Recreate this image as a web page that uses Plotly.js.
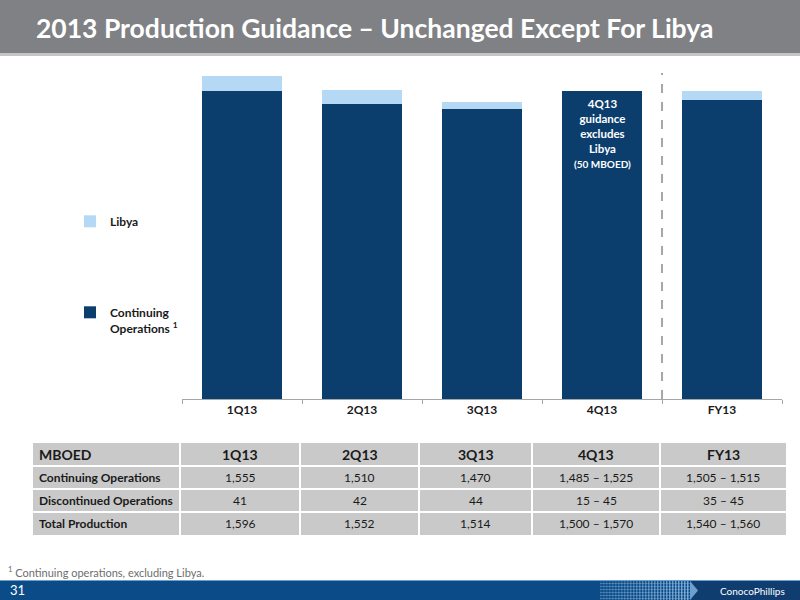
<!DOCTYPE html>
<html>
<head>
<meta charset="utf-8">
<script src="https://cdn.plot.ly/plotly-3.0.1.min.js"></script>
<style>
html,body{margin:0;padding:0;background:#fff;}
#chart{width:800px;height:600px;}
</style>
</head>
<body>
<div id="chart"></div>
<script>
// ---- Data ----
const categories = ['1Q13', '2Q13', '3Q13', '4Q13', 'FY13'];
const continuingOps = [1555, 1489, 1467, 1555, 1511];
const libya = [77, 74, 35, 0, 45];

const tableHeader = ['MBOED', '1Q13', '2Q13', '3Q13', '4Q13', 'FY13'];
const rowLabels = ['Continuing Operations', 'Discontinued Operations', 'Total Production'];
const rowContinuing = ['1,555', '1,510', '1,470', '1,485 \u2013 1,525', '1,505 \u2013 1,515'];
const rowDiscontinued = ['41', '42', '44', '15 \u2013 45', '35 \u2013 45'];
const rowTotal = ['1,596', '1,552', '1,514', '1,500 \u2013 1,570', '1,540 \u2013 1,560'];

const noteLines = ['4Q13', 'guidance', 'excludes', 'Libya'];
const noteSub = '(50 MBOED)';

// ---- Styling / layout constants ----
const FONT = 'Lato, "Open Sans", sans-serif';
const NARROW = '"Liberation Sans Narrow", Lato, sans-serif';
const DARK = '#0c3e6d';
const LIGHT = '#b5d8f4';
const W = 800, H = 600;
const px = v => v / W;
const py = v => 1 - v / H;

// table geometry (pixels)
const colEdges = [33, 180, 300, 419, 532, 660, 786];
const rowEdges = [443, 466, 489, 512, 535];
const TABLE_FILL = '#c9c9c9';

const traces = [
  {
    type: 'bar', x: categories, y: continuingOps,
    name: 'Continuing<br>Operations <sup>1</sup>',
    marker: {color: DARK}, legendgroup: 'c', hoverinfo: 'skip'
  },
  {
    type: 'bar', x: categories, y: libya,
    name: 'Libya',
    marker: {color: LIGHT}, legendgroup: 'l', hoverinfo: 'skip'
  }
];

const shapes = [
  // title bar
  {type: 'rect', xref: 'paper', yref: 'paper', x0: 0, x1: 1, y0: py(53), y1: 1, fillcolor: '#808184', line: {width: 0}, layer: 'below'},
  {type: 'rect', xref: 'paper', yref: 'paper', x0: 0, x1: 1, y0: py(56), y1: py(53), fillcolor: '#c4c4c6', line: {width: 0}, layer: 'below'},
  // dashed divider between 4Q13 and FY13
  {type: 'line', xref: 'x', yref: 'paper', x0: 3.5, x1: 3.5, y0: py(399), y1: py(73), line: {color: '#8a8a8a', width: 1.5, dash: 'dash'}},
  // bottom bar
  {type: 'rect', xref: 'paper', yref: 'paper', x0: 0, x1: 1, y0: 0, y1: py(580), fillcolor: '#0b4c88', line: {width: 0}},
  {type: 'rect', xref: 'paper', yref: 'paper', x0: 0, x1: 1, y0: py(581), y1: py(580), fillcolor: '#6f9fcc', line: {width: 0}},
  {type: 'rect', xref: 'paper', yref: 'paper', x0: px(692), x1: 1, y0: 0, y1: py(581), fillcolor: '#0f3d70', line: {width: 0}},
  {type: 'path', xref: 'paper', yref: 'paper', path: 'M 0.8625,0 L 0.8725,0.0158 L 0.8625,0.0317 Z', fillcolor: '#6f9fcc', line: {width: 0}},
  // table background
  {type: 'rect', xref: 'paper', yref: 'paper', x0: px(colEdges[0]), x1: px(colEdges[colEdges.length - 1]),
    y0: py(rowEdges[rowEdges.length - 1]), y1: py(rowEdges[0]), fillcolor: TABLE_FILL, line: {width: 0}}
];
// table grid lines (white)
for (let i = 1; i < colEdges.length - 1; i++) {
  shapes.push({type: 'line', xref: 'paper', yref: 'paper', x0: px(colEdges[i]), x1: px(colEdges[i]),
    y0: py(rowEdges[rowEdges.length - 1]), y1: py(rowEdges[0]), line: {color: '#ffffff', width: 2}});
}
for (let j = 1; j < rowEdges.length - 1; j++) {
  shapes.push({type: 'line', xref: 'paper', yref: 'paper', x0: px(colEdges[0]), x1: px(colEdges[colEdges.length - 1]),
    y0: py(rowEdges[j]), y1: py(rowEdges[j]), line: {color: '#ffffff', width: 2}});
}
// checker pattern in bottom bar
for (let i = 0; i < 30; i++) {
  const x = 600 + i * 3;
  shapes.push({type: 'rect', xref: 'paper', yref: 'paper', x0: px(x), x1: px(x + 1.5), y0: 0, y1: py(581),
    fillcolor: '#9cc3e6', opacity: 0.15 + 0.6 * i / 29, line: {width: 0}});
}
for (let j = 0; j < 6; j++) {
  const y = 583 + j * 3;
  shapes.push({type: 'rect', xref: 'paper', yref: 'paper', x0: px(600), x1: px(690), y0: py(y + 1), y1: py(y),
    fillcolor: '#9cc3e6', opacity: 0.35, line: {width: 0}});
}

const annotations = [
  {xref: 'paper', yref: 'paper', x: px(34), y: py(28), xanchor: 'left', yanchor: 'middle', showarrow: false,
    text: '<b>2013 Production Guidance \u2013 Unchanged Except For Libya</b>', font: {family: FONT, size: 26.5, color: '#ffffff'}},
  {xref: 'paper', yref: 'paper', x: px(6), y: py(571), xanchor: 'left', yanchor: 'middle', showarrow: false,
    text: '<sup>1</sup> Continuing operations, excluding Libya.', font: {family: NARROW, size: 11, color: '#6e6e6e'}},
  {xref: 'paper', yref: 'paper', x: px(8), y: py(590), xanchor: 'left', yanchor: 'middle', showarrow: false,
    text: '31', font: {family: NARROW, size: 13, color: '#ffffff'}},
  {xref: 'paper', yref: 'paper', x: px(752), y: py(591), xanchor: 'center', yanchor: 'middle', showarrow: false,
    text: 'ConocoPhillips', font: {family: NARROW, size: 10, color: '#ffffff'}},
  // note inside 4Q13 bar
  {xref: 'x', yref: 'paper', x: '4Q13', y: py(95), xanchor: 'center', yanchor: 'top', showarrow: false,
    text: '<b>' + noteLines.join('<br>') + '<br><span style="font-size:10px">' + noteSub + '</span></b>',
    font: {family: FONT, size: 11.5, color: '#ffffff'}}
];

// table texts
const bodyRows = [rowContinuing, rowDiscontinued, rowTotal];
function cellCenterX(c) { return (colEdges[c] + colEdges[c + 1]) / 2; }
function rowCenterY(r) { return (rowEdges[r] + rowEdges[r + 1]) / 2; }
tableHeader.forEach((h, c) => {
  annotations.push({xref: 'paper', yref: 'paper',
    x: c === 0 ? px(colEdges[0] + 4) : px(cellCenterX(c)), xanchor: c === 0 ? 'left' : 'center',
    y: py(rowCenterY(0)), yanchor: 'middle', showarrow: false,
    text: '<b>' + h + '</b>', font: {family: FONT, size: 14, color: '#1a1a1a'}});
});
rowLabels.forEach((lab, r) => {
  annotations.push({xref: 'paper', yref: 'paper', x: px(colEdges[0] + 4), xanchor: 'left',
    y: py(rowCenterY(r + 1)), yanchor: 'middle', showarrow: false,
    text: '<b>' + lab + '</b>', font: {family: FONT, size: 12, color: '#1a1a1a'}});
  bodyRows[r].forEach((v, c) => {
    annotations.push({xref: 'paper', yref: 'paper', x: px(cellCenterX(c + 1)), xanchor: 'center',
      y: py(rowCenterY(r + 1)), yanchor: 'middle', showarrow: false,
      text: v, font: {family: FONT, size: 12, color: '#1a1a1a'}});
  });
});

const layout = {
  width: W, height: H,
  margin: {l: 0, r: 0, t: 0, b: 0},
  paper_bgcolor: '#ffffff', plot_bgcolor: 'rgba(0,0,0,0)',
  barmode: 'stack', bargap: 0.34,
  font: {family: FONT, color: '#1a1a1a'},
  xaxis: {
    domain: [px(182), px(782)],
    type: 'category',
    showline: true, linecolor: '#a6a6a6', linewidth: 1,
    ticks: 'outside', tickson: 'boundaries', ticklen: 4, tickcolor: '#a6a6a6',
    tickfont: {family: FONT, size: 12, color: '#1a1a1a', weight: 'bold'},
    showgrid: false, zeroline: false, fixedrange: true
  },
  yaxis: {
    domain: [py(399), py(60)],
    range: [0, 1713],
    visible: false, fixedrange: true
  },
  showlegend: true,
  legend: {
    x: px(70), y: py(207), xanchor: 'left', yanchor: 'top',
    traceorder: 'grouped', tracegroupgap: 72, valign: 'top',
    font: {family: FONT, size: 12, color: '#1a1a1a', weight: 'bold'},
    bgcolor: 'rgba(0,0,0,0)', itemwidth: 30
  },
  shapes: shapes,
  annotations: annotations
};

// put Libya first in the legend
traces[0].legendrank = 2;
traces[1].legendrank = 1;

Plotly.newPlot('chart', traces, layout, {staticPlot: true, displayModeBar: false});
</script>
</body>
</html>
